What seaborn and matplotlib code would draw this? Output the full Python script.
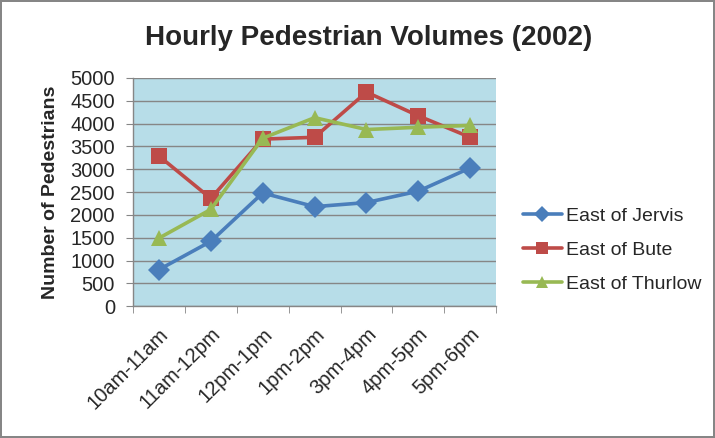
import matplotlib
matplotlib.use("Agg")
import matplotlib.pyplot as plt
import pandas as pd
import seaborn as sns

# data
hours = ["10am-11am", "11am-12pm", "12pm-1pm", "1pm-2pm", "3pm-4pm", "4pm-5pm", "5pm-6pm"]
east_of_jervis = [800, 1420, 2480, 2180, 2270, 2520, 3030]
east_of_bute = [3290, 2360, 3660, 3700, 4690, 4170, 3700]
east_of_thurlow = [1490, 2120, 3680, 4130, 3870, 3920, 3960]

series_names = ["East of Jervis", "East of Bute", "East of Thurlow"]
colors = ["#4A7EBB", "#BE4B48", "#98B954"]
markers = ["D", "s", "^"]

df = pd.DataFrame({
    "hour": hours * 3,
    "count": east_of_jervis + east_of_bute + east_of_thurlow,
    "series": [s for s in series_names for _ in hours],
})

sns.set_style("white")
plt.rcParams["font.family"] = ["Liberation Sans", "DejaVu Sans"]

fig = plt.figure(figsize=(7.15, 4.38), dpi=100, edgecolor="#868686", linewidth=1.5)
ax = fig.add_axes([0.186, 0.301, 0.508, 0.521])
ax.set_facecolor("#B7DDE8")

sns.lineplot(data=df, x="hour", y="count", hue="series", style="series",
             palette=dict(zip(series_names, colors)),
             markers=dict(zip(series_names, markers)), dashes=False,
             linewidth=2.6, markersize=11, markeredgewidth=0, ax=ax, sort=False)

ax.set_xlim(-0.5, len(hours) - 0.5)
ax.set_ylim(0, 5000)
ax.set_yticks(range(0, 5001, 500))
ax.yaxis.grid(True, color="#868686", linewidth=1)
ax.set_axisbelow(True)

ax.set_xticks(range(len(hours)))
ax.set_xticklabels(hours, rotation=45, ha="right", rotation_mode="anchor")
ax.set_xticks([i - 0.5 for i in range(len(hours) + 1)], minor=True)
ax.tick_params(axis="x", which="major", length=0, labelsize=14.5, pad=13)
ax.tick_params(axis="x", which="minor", length=5, color="#868686", direction="out", bottom=True)
ax.tick_params(axis="y", length=5, color="#868686", direction="out", left=True, labelsize=14.5, pad=8)

for side in ["top", "right"]:
    ax.spines[side].set_visible(False)
for side in ["left", "bottom"]:
    ax.spines[side].set_color("#868686")
    ax.spines[side].set_linewidth(1)

ax.set_xlabel("")
ax.set_ylabel("Number of Pedestrians", fontsize=14, fontweight="bold", labelpad=8)
fig.text(0.516, 0.913, "Hourly Pedestrian Volumes (2002)", fontsize=20, fontweight="bold",
         ha="center", va="center")

leg = ax.legend(loc="center left", bbox_to_anchor=(1.025, 0.245), frameon=False,
                fontsize=14, handlelength=2.0, handletextpad=0.2, labelspacing=0.85)
for h in leg.legend_handles:
    h.set_markersize(8)

fig.savefig("out.png", dpi=100)
